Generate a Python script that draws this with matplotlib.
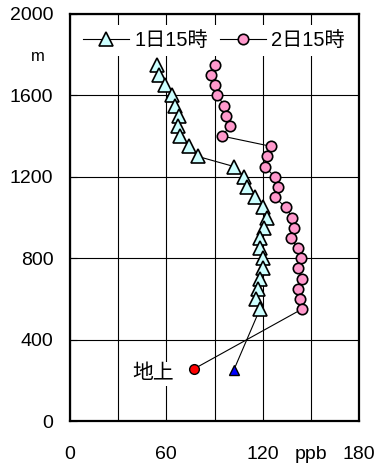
import matplotlib.pyplot as plt

plt.rcParams['font.family'] = ['Liberation Sans', 'Noto Sans CJK JP', 'DejaVu Sans']

# 高度 (m)
height = [1750, 1700, 1650, 1600, 1550, 1500, 1450, 1400, 1350, 1300,
          1250, 1200, 1150, 1100, 1050, 1000, 950, 900, 850, 800,
          750, 700, 650, 600, 550]
# オゾン濃度 (ppb)
o3_day1 = [54.0, 55.6, 59.4, 63.5, 65.4, 67.9, 67.2, 68.7, 73.9, 79.7,
           102.3, 108.5, 110.0, 115.4, 120.4, 122.5, 120.6, 118.3, 118.3, 120.4,
           120.4, 118.3, 117.3, 115.8, 118.3]
o3_day2 = [90.0, 87.6, 90.3, 91.7, 96.1, 96.9, 99.6, 94.8, 125.0, 122.9,
           121.4, 127.5, 129.5, 127.5, 134.3, 138.4, 139.3, 137.4, 141.7, 143.6,
           141.7, 144.5, 141.7, 143.4, 144.5]
# 地上
ground_h = [250, 255]
ground_day1 = 102
ground_day2 = 77

labels = ['1日15時', '2日15時']
xticks = [0, 30, 60, 90, 120, 150, 180]
xticklabels = ['0', '', '60', '', '120', 'ppb', '180']
yticks = [0, 400, 800, 1200, 1600, 2000]

fig = plt.figure(figsize=(3.75, 4.66), dpi=100)
ax = fig.add_axes([70/375, 45/466, 289/375, 407/466])

# 地上から最下層へつなぐ線
ax.plot([ground_day1, o3_day1[-1]], [ground_h[0], height[-1]], color='black', lw=0.8, zorder=3)
ax.plot([ground_day2, o3_day2[-1]], [ground_h[1], height[-1]], color='black', lw=0.8, zorder=3)

ax.plot(o3_day1, height, color='black', lw=0.8, marker='^', ms=9.5,
        mfc='#CCFFFF', mec='black', mew=1.2, label=labels[0], zorder=3)
ax.plot(o3_day2, height, color='black', lw=0.8, marker='o', ms=7.5,
        mfc='#FF99CC', mec='black', mew=1.2, label=labels[1], zorder=3)

ax.plot(ground_day1, ground_h[0], marker='^', ms=7, mfc='#0000FF', mec='black', mew=1, ls='none', zorder=4)
ax.plot(ground_day2, ground_h[1], marker='o', ms=7, mfc='#FF0000', mec='black', mew=1, ls='none', zorder=4)
ax.text(52, 232, '地上', fontsize=15, ha='center', va='center', zorder=5,
        bbox=dict(facecolor='white', edgecolor='none', pad=2))

ax.set_xlim(0, 180)
ax.set_ylim(0, 2000)
ax.set_xticks(xticks)
ax.set_xticklabels(xticklabels, fontsize=14)
ax.set_yticks(yticks)
ax.set_yticklabels([str(v) for v in yticks], fontsize=14)
ax.tick_params(axis='x', length=0, pad=18)
ax.tick_params(axis='y', direction='in', length=5, pad=12)
ax.grid(True, color='black', lw=0.8)
ax.set_axisbelow(True)
for s in ax.spines.values():
    s.set_linewidth(1.6)

ax.text(-0.11, 0.895, 'm', transform=ax.transAxes, fontsize=12, ha='center', va='center')

leg = ax.legend(loc='upper left', ncol=2, bbox_to_anchor=(0.024, 0.973),
                borderaxespad=0, fontsize=14.5, frameon=True, fancybox=False,
                handlelength=2.3, handletextpad=0.25, columnspacing=0.6, borderpad=0.3)
leg.get_frame().set_edgecolor('none')
leg.get_frame().set_facecolor('white')
leg.get_frame().set_alpha(1)
leg.set_zorder(2.5)

fig.savefig('out.png', dpi=100)
